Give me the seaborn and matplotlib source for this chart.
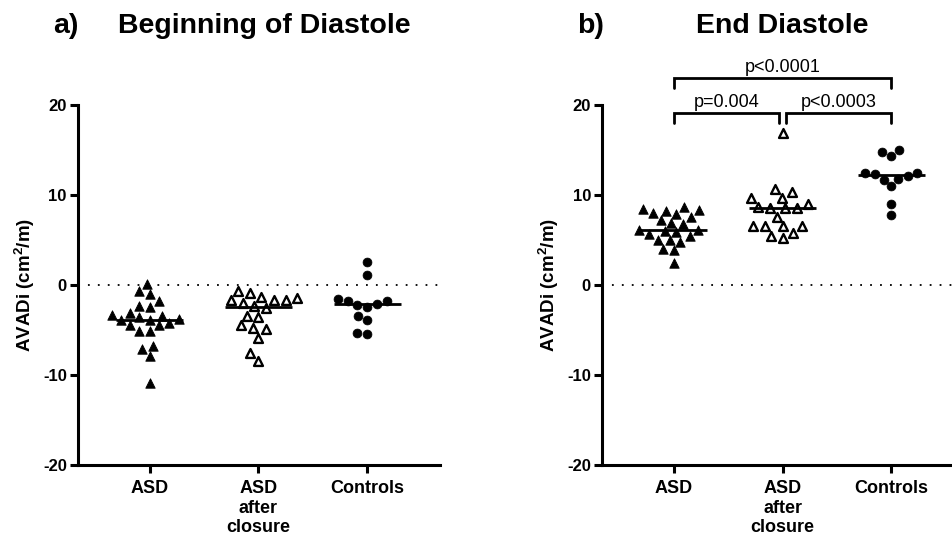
import pandas as pd
import matplotlib
matplotlib.use("Agg")
import matplotlib.pyplot as plt
import seaborn as sns

# Groups (x categories)
groups = ["ASD", "ASD\nafter\nclosure", "Controls"]

# a) Beginning of Diastole, AVADi values
begin_asd = [0.1, -1.0, -0.7, -1.8, -2.4, -2.3, -3.4, -3.8, -3.9, -3.9, -3.3,
             -3.1, -3.6, -4.5, -4.4, -4.2, -5.1, -5.1, -7.1, -6.8, -7.9, -10.9]
begin_closed = [-1.7, -1.7, -0.7, -1.3, -2.3, -2.6, -1.7, -0.9, -2.0, -1.5,
                -3.6, -3.4, -4.8, -4.9, -4.5, -5.9, -7.6, -8.5]
begin_controls = [2.5, 1.1, -2.2, -1.8, -2.4, -1.8, -1.6, -2.1, -3.9, -3.4,
                  -5.4, -5.3]

# b) End Diastole, AVADi values
end_asd = [8.2, 8.4, 7.9, 8.7, 8.0, 8.3, 7.2, 7.6, 6.9, 6.8, 6.0, 6.1, 6.1,
           5.9, 5.7, 5.4, 5.0, 5.0, 4.8, 4.0, 3.9, 2.4]
end_closed = [16.9, 10.7, 10.3, 9.7, 9.7, 9.0, 8.6, 8.6, 8.5, 8.7, 7.6, 6.6,
              6.5, 6.5, 6.6, 5.8, 5.2, 5.4]
end_controls = [14.3, 15.0, 14.8, 11.7, 12.4, 12.1, 12.3, 11.8, 12.4, 11.0,
                9.0, 7.8]

# significance brackets for panel b: (from group, to group, label, level)
comparisons = [(0, 2, "p<0.0001", 23.0),
               (0, 0.97, "p=0.004", 19.1),
               (1.03, 2, "p<0.0003", 19.1)]

markers = ["^", "^", "o"]
faces = ["black", "white", "black"]
sizes = [6.8, 6.4, 6.4]
edge_w = [0.6, 1.7, 0.5]


def make_df(a, b, c):
    rows = []
    for g, vals in zip(groups, [a, b, c]):
        rows += [{"group": g, "value": v} for v in vals]
    return pd.DataFrame(rows)


def draw_panel(ax, df):
    for g, mk, fc, s, lw in zip(groups, markers, faces, sizes, edge_w):
        sns.swarmplot(data=df[df["group"] == g], x="group", y="value",
                      order=groups, marker=mk, color=fc, edgecolor="black",
                      linewidth=lw, size=s, ax=ax, zorder=2)
    # median lines
    sns.boxplot(data=df, x="group", y="value", order=groups, width=0.62,
                showbox=False, showcaps=False, showfliers=False,
                whiskerprops={"visible": False},
                medianprops={"color": "black", "linewidth": 2, "zorder": 3},
                ax=ax)
    ax.axhline(0, color="black", lw=1.3, ls=(0, (1, 4.5)), zorder=1)
    ax.set_ylim(-20, 20)
    ax.set_xlim(-0.66, 2.67)
    ax.set_yticks([-20, -10, 0, 10, 20])
    ax.set_xlabel("")
    ax.set_ylabel(r"AVADi (cm$^{\mathbf{2}}$/m)", fontsize=13.5,
                  fontweight="bold", labelpad=4)
    sns.despine(ax=ax)
    for sp in ["left", "bottom"]:
        ax.spines[sp].set_linewidth(2.2)
        ax.spines[sp].set_color("black")
    ax.tick_params(width=2.2, length=6, labelsize=12, pad=2, color="black",
                   labelcolor="black")
    for lab in ax.get_xticklabels() + ax.get_yticklabels():
        lab.set_fontweight("bold")
    for lab in ax.get_xticklabels():
        lab.set_fontsize(13)
    ax.tick_params(axis="x", pad=5)


sns.set_style("ticks")
plt.rcParams["font.family"] = ["Liberation Sans", "DejaVu Sans"]
plt.rcParams["axes.unicode_minus"] = False
plt.rcParams["mathtext.fontset"] = "custom"
plt.rcParams["mathtext.rm"] = "Liberation Sans:bold"
plt.rcParams["mathtext.bf"] = "Liberation Sans:bold"
plt.rcParams["text.color"] = "black"
plt.rcParams["axes.labelcolor"] = "black"

fig = plt.figure(figsize=(9.53, 5.39), dpi=100)
ax1 = fig.add_axes([0.0818, 0.1373, 0.380, 0.668])
ax2 = fig.add_axes([0.6317, 0.1373, 0.380, 0.668])

draw_panel(ax1, make_df(begin_asd, begin_closed, begin_controls))
draw_panel(ax2, make_df(end_asd, end_closed, end_controls))

# brackets
for x0, x1, label, lvl in comparisons:
    ax2.plot([x0, x0, x1, x1], [lvl - 1.1, lvl, lvl, lvl - 1.1],
             color="black", lw=2, clip_on=False, solid_joinstyle="miter")
    ax2.text((x0 + x1) / 2, lvl + 0.25, label, ha="center", va="bottom",
             fontsize=13, color="black")

fig.text(0.0556, 0.952, "a)", fontsize=20.5, fontweight="bold", va="center")
fig.text(0.277, 0.952, "Beginning of Diastole", fontsize=20.5,
         fontweight="bold", va="center", ha="center")
fig.text(0.6055, 0.952, "b)", fontsize=20.5, fontweight="bold", va="center")
fig.text(0.8206, 0.952, "End Diastole", fontsize=20.5, fontweight="bold",
         va="center", ha="center")

fig.savefig("out.png", dpi=100)
